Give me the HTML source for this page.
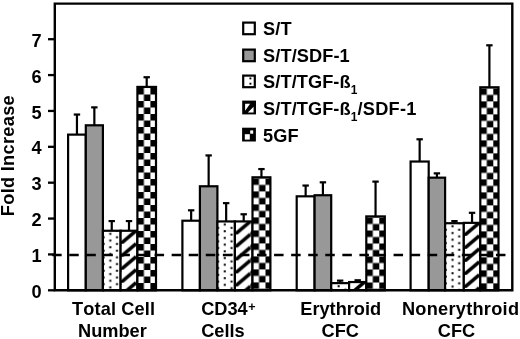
<!DOCTYPE html><html><head><meta charset="utf-8"><style>html,body{margin:0;padding:0;background:#fff;overflow:hidden}svg{display:block;filter:blur(0.3px)}text{font-kerning:none;font-family:"Liberation Sans",sans-serif;font-weight:bold;fill:#000}</style></head><body>
<svg width="520" height="339" viewBox="0 0 520 339">
<defs>
<pattern id="dot0" patternUnits="userSpaceOnUse" x="102.90" y="230.76" width="13.4" height="6.7"><rect width="13.4" height="6.7" fill="#fff"/><rect x="6.4" y="2.1" width="2" height="2" fill="#000"/><rect x="13.1" y="5.5" width="2" height="2" fill="#000"/><rect x="-0.3" y="5.5" width="2" height="2" fill="#000"/><rect x="13.1" y="-1.2" width="2" height="2" fill="#000"/><rect x="-0.3" y="-1.2" width="2" height="2" fill="#000"/></pattern>
<pattern id="hat0" patternUnits="userSpaceOnUse" x="120.60" y="230.76" width="15.5" height="13.0"><rect width="15.5" height="13.0" fill="#fff"/><path d="M0,13.0 L15.5,0 M-15.5,13.0 L0,0 M0,26.0 L15.5,13.0" stroke="#000" stroke-width="3.6"/></pattern>
<pattern id="chk0" patternUnits="userSpaceOnUse" x="137.40" y="88.02" width="13.0" height="13.0"><rect width="13.0" height="13.0" fill="#fff"/><rect width="6.5" height="6.5" fill="#000"/><rect x="6.5" y="6.5" width="6.5" height="6.5" fill="#000"/></pattern>
<pattern id="dot1" patternUnits="userSpaceOnUse" x="217.40" y="221.43" width="13.4" height="6.7"><rect width="13.4" height="6.7" fill="#fff"/><rect x="6.4" y="2.1" width="2" height="2" fill="#000"/><rect x="13.1" y="5.5" width="2" height="2" fill="#000"/><rect x="-0.3" y="5.5" width="2" height="2" fill="#000"/><rect x="13.1" y="-1.2" width="2" height="2" fill="#000"/><rect x="-0.3" y="-1.2" width="2" height="2" fill="#000"/></pattern>
<pattern id="hat1" patternUnits="userSpaceOnUse" x="234.90" y="221.43" width="15.5" height="13.0"><rect width="15.5" height="13.0" fill="#fff"/><path d="M0,13.0 L15.5,0 M-15.5,13.0 L0,0 M0,26.0 L15.5,13.0" stroke="#000" stroke-width="3.6"/></pattern>
<pattern id="chk1" patternUnits="userSpaceOnUse" x="252.50" y="178.41" width="13.0" height="13.0"><rect width="13.0" height="13.0" fill="#fff"/><rect width="6.5" height="6.5" fill="#000"/><rect x="6.5" y="6.5" width="6.5" height="6.5" fill="#000"/></pattern>
<pattern id="dot2" patternUnits="userSpaceOnUse" x="331.20" y="283.13" width="13.4" height="6.7"><rect width="13.4" height="6.7" fill="#fff"/><rect x="6.4" y="2.1" width="2" height="2" fill="#000"/><rect x="13.1" y="5.5" width="2" height="2" fill="#000"/><rect x="-0.3" y="5.5" width="2" height="2" fill="#000"/><rect x="13.1" y="-1.2" width="2" height="2" fill="#000"/><rect x="-0.3" y="-1.2" width="2" height="2" fill="#000"/></pattern>
<pattern id="hat2" patternUnits="userSpaceOnUse" x="349.10" y="282.05" width="15.5" height="13.0"><rect width="15.5" height="13.0" fill="#fff"/><path d="M0,13.0 L15.5,0 M-15.5,13.0 L0,0 M0,26.0 L15.5,13.0" stroke="#000" stroke-width="3.6"/></pattern>
<pattern id="chk2" patternUnits="userSpaceOnUse" x="366.30" y="217.51" width="13.0" height="13.0"><rect width="13.0" height="13.0" fill="#fff"/><rect width="6.5" height="6.5" fill="#000"/><rect x="6.5" y="6.5" width="6.5" height="6.5" fill="#000"/></pattern>
<pattern id="dot3" patternUnits="userSpaceOnUse" x="445.10" y="223.22" width="13.4" height="6.7"><rect width="13.4" height="6.7" fill="#fff"/><rect x="6.4" y="2.1" width="2" height="2" fill="#000"/><rect x="13.1" y="5.5" width="2" height="2" fill="#000"/><rect x="-0.3" y="5.5" width="2" height="2" fill="#000"/><rect x="13.1" y="-1.2" width="2" height="2" fill="#000"/><rect x="-0.3" y="-1.2" width="2" height="2" fill="#000"/></pattern>
<pattern id="hat3" patternUnits="userSpaceOnUse" x="463.80" y="222.86" width="15.5" height="13.0"><rect width="15.5" height="13.0" fill="#fff"/><path d="M0,13.0 L15.5,0 M-15.5,13.0 L0,0 M0,26.0 L15.5,13.0" stroke="#000" stroke-width="3.6"/></pattern>
<pattern id="chk3" patternUnits="userSpaceOnUse" x="480.30" y="88.38" width="13.0" height="13.0"><rect width="13.0" height="13.0" fill="#fff"/><rect width="6.5" height="6.5" fill="#000"/><rect x="6.5" y="6.5" width="6.5" height="6.5" fill="#000"/></pattern>
</defs>
<rect x="68.10" y="134.62" width="17.70" height="155.68" fill="#ffffff" stroke="#000" stroke-width="2.2"/>
<rect x="85.80" y="125.30" width="17.10" height="165.00" fill="#989898" stroke="#000" stroke-width="2.2"/>
<rect x="102.90" y="230.76" width="17.70" height="59.54" fill="url(#dot0)" stroke="#000" stroke-width="2.2"/>
<rect x="120.60" y="230.76" width="16.80" height="59.54" fill="url(#hat0)" stroke="#000" stroke-width="2.2"/>
<rect x="137.40" y="86.92" width="18.60" height="203.38" fill="url(#chk0)" stroke="#000" stroke-width="2.2"/>
<line x1="76.95" y1="134.62" x2="76.95" y2="114.54" stroke="#000" stroke-width="2.2"/>
<line x1="73.75" y1="114.54" x2="80.15" y2="114.54" stroke="#000" stroke-width="2.2"/>
<line x1="94.35" y1="125.30" x2="94.35" y2="107.36" stroke="#000" stroke-width="2.2"/>
<line x1="91.15" y1="107.36" x2="97.55" y2="107.36" stroke="#000" stroke-width="2.2"/>
<line x1="111.75" y1="230.76" x2="111.75" y2="221.07" stroke="#000" stroke-width="2.2"/>
<line x1="108.55" y1="221.07" x2="114.95" y2="221.07" stroke="#000" stroke-width="2.2"/>
<line x1="129.00" y1="230.76" x2="129.00" y2="221.07" stroke="#000" stroke-width="2.2"/>
<line x1="125.80" y1="221.07" x2="132.20" y2="221.07" stroke="#000" stroke-width="2.2"/>
<line x1="146.70" y1="86.92" x2="146.70" y2="77.23" stroke="#000" stroke-width="2.2"/>
<line x1="143.50" y1="77.23" x2="149.90" y2="77.23" stroke="#000" stroke-width="2.2"/>
<rect x="182.40" y="220.71" width="17.50" height="69.59" fill="#ffffff" stroke="#000" stroke-width="2.2"/>
<rect x="199.90" y="186.28" width="17.50" height="104.02" fill="#989898" stroke="#000" stroke-width="2.2"/>
<rect x="217.40" y="221.43" width="17.50" height="68.87" fill="url(#dot1)" stroke="#000" stroke-width="2.2"/>
<rect x="234.90" y="221.43" width="17.60" height="68.87" fill="url(#hat1)" stroke="#000" stroke-width="2.2"/>
<rect x="252.50" y="177.31" width="17.90" height="112.99" fill="url(#chk1)" stroke="#000" stroke-width="2.2"/>
<line x1="191.15" y1="220.71" x2="191.15" y2="210.31" stroke="#000" stroke-width="2.2"/>
<line x1="187.95" y1="210.31" x2="194.35" y2="210.31" stroke="#000" stroke-width="2.2"/>
<line x1="208.65" y1="186.28" x2="208.65" y2="155.43" stroke="#000" stroke-width="2.2"/>
<line x1="205.45" y1="155.43" x2="211.85" y2="155.43" stroke="#000" stroke-width="2.2"/>
<line x1="226.15" y1="221.43" x2="226.15" y2="203.14" stroke="#000" stroke-width="2.2"/>
<line x1="222.95" y1="203.14" x2="229.35" y2="203.14" stroke="#000" stroke-width="2.2"/>
<line x1="243.70" y1="221.43" x2="243.70" y2="214.26" stroke="#000" stroke-width="2.2"/>
<line x1="240.50" y1="214.26" x2="246.90" y2="214.26" stroke="#000" stroke-width="2.2"/>
<line x1="261.45" y1="177.31" x2="261.45" y2="169.06" stroke="#000" stroke-width="2.2"/>
<line x1="258.25" y1="169.06" x2="264.65" y2="169.06" stroke="#000" stroke-width="2.2"/>
<rect x="296.70" y="196.32" width="17.90" height="93.98" fill="#ffffff" stroke="#000" stroke-width="2.2"/>
<rect x="314.60" y="195.24" width="16.60" height="95.06" fill="#989898" stroke="#000" stroke-width="2.2"/>
<rect x="331.20" y="283.13" width="17.90" height="7.17" fill="url(#dot2)" stroke="#000" stroke-width="2.2"/>
<rect x="349.10" y="282.05" width="17.20" height="8.25" fill="url(#hat2)" stroke="#000" stroke-width="2.2"/>
<rect x="366.30" y="216.41" width="18.50" height="73.89" fill="url(#chk2)" stroke="#000" stroke-width="2.2"/>
<line x1="305.65" y1="196.32" x2="305.65" y2="185.56" stroke="#000" stroke-width="2.2"/>
<line x1="302.45" y1="185.56" x2="308.85" y2="185.56" stroke="#000" stroke-width="2.2"/>
<line x1="322.90" y1="195.24" x2="322.90" y2="182.33" stroke="#000" stroke-width="2.2"/>
<line x1="319.70" y1="182.33" x2="326.10" y2="182.33" stroke="#000" stroke-width="2.2"/>
<line x1="340.15" y1="283.13" x2="340.15" y2="280.62" stroke="#000" stroke-width="2.2"/>
<line x1="336.95" y1="280.62" x2="343.35" y2="280.62" stroke="#000" stroke-width="2.2"/>
<line x1="357.70" y1="282.05" x2="357.70" y2="280.26" stroke="#000" stroke-width="2.2"/>
<line x1="354.50" y1="280.26" x2="360.90" y2="280.26" stroke="#000" stroke-width="2.2"/>
<line x1="375.55" y1="216.41" x2="375.55" y2="181.61" stroke="#000" stroke-width="2.2"/>
<line x1="372.35" y1="181.61" x2="378.75" y2="181.61" stroke="#000" stroke-width="2.2"/>
<rect x="410.60" y="161.53" width="18.10" height="128.77" fill="#ffffff" stroke="#000" stroke-width="2.2"/>
<rect x="428.70" y="177.67" width="16.40" height="112.63" fill="#989898" stroke="#000" stroke-width="2.2"/>
<rect x="445.10" y="223.22" width="18.70" height="67.08" fill="url(#dot3)" stroke="#000" stroke-width="2.2"/>
<rect x="463.80" y="222.86" width="16.50" height="67.44" fill="url(#hat3)" stroke="#000" stroke-width="2.2"/>
<rect x="480.30" y="87.28" width="18.20" height="203.02" fill="url(#chk3)" stroke="#000" stroke-width="2.2"/>
<line x1="419.65" y1="161.53" x2="419.65" y2="139.29" stroke="#000" stroke-width="2.2"/>
<line x1="416.45" y1="139.29" x2="422.85" y2="139.29" stroke="#000" stroke-width="2.2"/>
<line x1="436.90" y1="177.67" x2="436.90" y2="173.36" stroke="#000" stroke-width="2.2"/>
<line x1="433.70" y1="173.36" x2="440.10" y2="173.36" stroke="#000" stroke-width="2.2"/>
<line x1="454.45" y1="223.22" x2="454.45" y2="221.07" stroke="#000" stroke-width="2.2"/>
<line x1="451.25" y1="221.07" x2="457.65" y2="221.07" stroke="#000" stroke-width="2.2"/>
<line x1="472.05" y1="222.86" x2="472.05" y2="212.82" stroke="#000" stroke-width="2.2"/>
<line x1="468.85" y1="212.82" x2="475.25" y2="212.82" stroke="#000" stroke-width="2.2"/>
<line x1="489.40" y1="87.28" x2="489.40" y2="45.31" stroke="#000" stroke-width="2.2"/>
<line x1="486.20" y1="45.31" x2="492.60" y2="45.31" stroke="#000" stroke-width="2.2"/>
<line x1="52.16" y1="254.93" x2="512.30" y2="254.93" stroke="#000" stroke-width="2.4" stroke-dasharray="9.5 7.57"/>
<path d="M54.8,290.3 L54.8,3.6 L512.3,3.6 L512.3,290.3 Z" fill="none" stroke="#000" stroke-width="2.4"/>
<line x1="48" y1="290.30" x2="54.80" y2="290.30" stroke="#000" stroke-width="2.3"/>
<text x="41.6" y="297.90" font-size="18.2" text-anchor="end">0</text>
<line x1="48" y1="254.43" x2="54.80" y2="254.43" stroke="#000" stroke-width="2.3"/>
<text x="41.6" y="262.03" font-size="18.2" text-anchor="end">1</text>
<line x1="48" y1="218.56" x2="54.80" y2="218.56" stroke="#000" stroke-width="2.3"/>
<text x="41.6" y="226.16" font-size="18.2" text-anchor="end">2</text>
<line x1="48" y1="182.69" x2="54.80" y2="182.69" stroke="#000" stroke-width="2.3"/>
<text x="41.6" y="190.29" font-size="18.2" text-anchor="end">3</text>
<line x1="48" y1="146.82" x2="54.80" y2="146.82" stroke="#000" stroke-width="2.3"/>
<text x="41.6" y="154.42" font-size="18.2" text-anchor="end">4</text>
<line x1="48" y1="110.95" x2="54.80" y2="110.95" stroke="#000" stroke-width="2.3"/>
<text x="41.6" y="118.55" font-size="18.2" text-anchor="end">5</text>
<line x1="48" y1="75.08" x2="54.80" y2="75.08" stroke="#000" stroke-width="2.3"/>
<text x="41.6" y="82.68" font-size="18.2" text-anchor="end">6</text>
<line x1="48" y1="39.21" x2="54.80" y2="39.21" stroke="#000" stroke-width="2.3"/>
<text x="41.6" y="46.81" font-size="18.2" text-anchor="end">7</text>
<text transform="translate(14.2,155.6) rotate(-90)" font-size="18.2" text-anchor="middle" letter-spacing="0.3">Fold Increase</text>
<text x="113.60" y="314.90" font-size="18.2" text-anchor="middle" letter-spacing="0.15">Total Cell</text>
<text x="112.40" y="336.90" font-size="18.2" text-anchor="middle" letter-spacing="0">Number</text>
<text x="201.20" y="314.90" font-size="18.2" text-anchor="start" letter-spacing="0">CD34</text>
<text x="248.30" y="311.20" font-size="12.5" text-anchor="start" letter-spacing="0">+</text>
<text x="201.20" y="336.90" font-size="18.2" text-anchor="start" letter-spacing="0">Cells</text>
<text x="340.70" y="314.90" font-size="18.2" text-anchor="middle" letter-spacing="0">Erythroid</text>
<text x="340.20" y="336.90" font-size="18.2" text-anchor="middle" letter-spacing="0">CFC</text>
<text x="460.60" y="314.90" font-size="18.2" text-anchor="middle" letter-spacing="0.27">Nonerythroid</text>
<text x="456.50" y="336.90" font-size="18.2" text-anchor="middle" letter-spacing="0">CFC</text>
<rect x="243.2" y="22.6" width="11.6" height="11.6" fill="#fff" stroke="#000" stroke-width="2.2"/>
<text x="263.1" y="35.40" font-size="18.2" letter-spacing="0.08">S/T</text>
<rect x="243.2" y="49.6" width="11.6" height="11.6" fill="#989898" stroke="#000" stroke-width="2.2"/>
<text x="263.1" y="62.40" font-size="18.2" letter-spacing="0.08">S/T/SDF-1</text>
<rect x="243.2" y="75.6" width="11.6" height="11.6" fill="#fff" stroke="#000" stroke-width="2.2"/>
<rect x="249.45" y="77.44999999999999" width="1.9" height="1.9" fill="#000"/><rect x="249.45" y="82.75" width="1.9" height="1.9" fill="#000"/>
<text x="263.1" y="88.40" font-size="18.2" letter-spacing="0.08">S/T/TGF-ß<tspan font-size="12" dy="5.8">1</tspan></text>
<rect x="242.2" y="100.60000000000001" width="13.799999999999999" height="13.799999999999999" fill="#000"/>
<path d="M245.1,103.8 L250.1,103.8 L245.1,110.8 Z M253.6,106.8 L253.6,112.60000000000001 L247.79999999999998,112.60000000000001 Z" fill="#fff"/>
<text x="263.1" y="115.00" font-size="18.2" letter-spacing="0.08">S/T/TGF-ß<tspan font-size="12" dy="5.8">1</tspan><tspan dy="-5.8" letter-spacing="0.25">/SDF-1</tspan></text>
<rect x="243.2" y="128.8" width="11.6" height="11.6" fill="#000" stroke="#000" stroke-width="2.2"/>
<rect x="244.79999999999998" y="134.2" width="5" height="5.4" fill="#fff"/><rect x="250.2" y="130.4" width="3" height="3.3" fill="#fff"/>
<text x="263.1" y="141.60" font-size="18.2" letter-spacing="0.08">5GF</text>
</svg></body></html>
